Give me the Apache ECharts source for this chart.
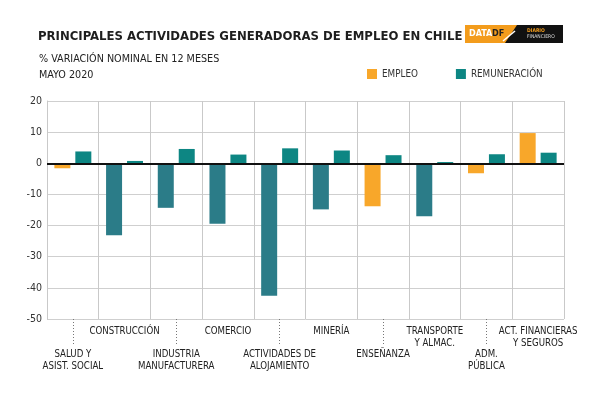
<!DOCTYPE html>
<html>
<head>
<meta charset="utf-8">
<script src="https://cdn.jsdelivr.net/npm/echarts@6/dist/echarts.min.js"></script>
<style>
  html, body { margin: 0; padding: 0; background: #fff; }
  #chart { width: 600px; height: 400px; }
</style>
</head>
<body>
<div id="chart"></div>
<script>
const categorias = [
  "SALUD Y\nASIST. SOCIAL",
  "CONSTRUCCIÓN",
  "INDUSTRIA\nMANUFACTURERA",
  "COMERCIO",
  "ACTIVIDADES DE\nALOJAMIENTO",
  "MINERÍA",
  "ENSEÑANZA",
  "TRANSPORTE\nY ALMAC.",
  "ADM.\nPÚBLICA",
  "ACT. FINANCIERAS\nY SEGUROS",
];
const empleo = [-1.6, -23.1, -14.3, -19.4, -42.5, -14.8, -13.8, -17.0, -3.2, 9.7];
const remuneracion = [3.8, 0.75, 4.6, 2.8, 4.8, 4.1, 2.6, 0.4, 2.9, 3.4];
const ejeY = { min: -50, max: 20, interval: 10 };

// empleo bars drawn in orange for these; the rest use the darker teal
const empleoNaranja = ["SALUD Y\nASIST. SOCIAL", "ENSEÑANZA", "ADM.\nPÚBLICA", "ACT. FINANCIERAS\nY SEGUROS"];

const FONT = "'DejaVu Sans Condensed', 'DejaVu Sans', sans-serif";
const ORANGE = "#f8a72a";
const TEAL = "#0d8683";
const TEAL_DARK = "#2b7c88";

// no narrow font installed: pick sizes so the texts take about the same width as in the picture
const ctx = document.createElement("canvas").getContext("2d");
function fitSize(text, weight, width) {
  ctx.font = weight + " 100px " + FONT;
  return Math.round((100 * width / ctx.measureText(text).width) * 10) / 10;
}
const titleSize = Math.min(18, fitSize("PRINCIPALES ACTIVIDADES GENERADORAS DE EMPLEO EN CHILE", "bold", 424));
const subSize = Math.min(13, fitSize("% VARIACIÓN NOMINAL EN 12 MESES", "normal", 180));
const labelSize = Math.min(11, fitSize("CONSTRUCCIÓN", "normal", 70));
const legendSize = Math.min(12, fitSize("REMUNERACIÓN", "normal", 72));

const chart = echarts.init(document.getElementById("chart"));

const option = {
  animation: false,
  backgroundColor: "#fff",
  textStyle: { fontFamily: FONT },
  title: [
    {
      text: "PRINCIPALES ACTIVIDADES GENERADORAS DE EMPLEO EN CHILE",
      left: 33,
      top: 25,
      textStyle: { fontFamily: FONT, fontSize: titleSize, fontWeight: "bold", color: "#1e1e1e" },
    },
    {
      text: "% VARIACIÓN NOMINAL EN 12 MESES\nMAYO 2020",
      left: 34,
      top: 46,
      textStyle: { fontFamily: FONT, fontSize: subSize, fontWeight: "normal", color: "#222", lineHeight: 16 },
    },
  ],
  legend: {
    left: 362,
    top: 64,
    itemWidth: 10,
    itemHeight: 10,
    itemGap: 38,
    icon: "rect",
    textStyle: { fontFamily: FONT, fontSize: legendSize, color: "#333", padding: [1, 0, 0, 0] },
    data: [
      { name: "EMPLEO", itemStyle: { color: ORANGE } },
      { name: "REMUNERACIÓN", itemStyle: { color: TEAL } },
    ],
  },
  grid: { left: 47, right: 36, top: 101, bottom: 81 },
  xAxis: [
    {
      type: "category",
      data: categorias,
      position: "bottom",
      axisLine: { show: false },
      axisTick: { show: false },
      splitLine: { show: true, interval: 0, lineStyle: { color: "#c9c9c9", width: 1 } },
      axisLabel: {
        interval: (i) => i % 2 === 1,
        margin: 6,
        fontFamily: FONT,
        fontSize: labelSize,
        lineHeight: 12,
        color: "#222",
      },
    },
    {
      type: "category",
      data: categorias,
      position: "bottom",
      axisLine: { show: false },
      axisTick: {
        show: true,
        alignWithLabel: true,
        interval: (i) => i % 2 === 0,
        length: 26,
        lineStyle: { color: "#777", type: [1, 2], width: 1 },
      },
      splitLine: { show: false },
      axisLabel: {
        interval: (i) => i % 2 === 0,
        margin: 29,
        fontFamily: FONT,
        fontSize: labelSize,
        lineHeight: 12,
        color: "#222",
      },
    },
  ],
  yAxis: {
    type: "value",
    min: ejeY.min,
    max: ejeY.max,
    interval: ejeY.interval,
    axisLine: { show: true, lineStyle: { color: "#c9c9c9", width: 1 } },
    axisTick: { show: false },
    splitLine: { lineStyle: { color: "#cfcfcf", width: 1 } },
    axisLabel: { margin: 5, fontFamily: FONT, fontSize: 10.5, color: "#333" },
  },
  series: [
    {
      name: "EMPLEO",
      type: "bar",
      xAxisIndex: 0,
      barWidth: 16,
      barGap: "31%",
      itemStyle: { color: ORANGE },
      data: empleo.map((v, i) => ({
        value: v,
        itemStyle: { color: empleoNaranja.includes(categorias[i]) ? ORANGE : TEAL_DARK },
      })),
      markLine: {
        silent: true,
        symbol: "none",
        label: { show: false },
        lineStyle: { color: "#111", width: 2, type: "solid" },
        data: [{ yAxis: 0 }],
      },
    },
    {
      name: "REMUNERACIÓN",
      type: "bar",
      xAxisIndex: 0,
      barWidth: 16,
      barGap: "31%",
      itemStyle: { color: TEAL },
      data: remuneracion,
    },
  ],
  graphic: [
    {
      type: "group",
      left: 465,
      top: 25,
      children: [
        { type: "polygon", shape: { points: [[0, 0], [58, 0], [46, 18], [0, 18]] }, style: { fill: "#f39c1c" } },
        { type: "polygon", shape: { points: [[52, 0], [98, 0], [98, 18], [40, 18]] }, style: { fill: "#111" } },
        { type: "line", shape: { x1: 38, y1: 16, x2: 50, y2: 6 }, style: { stroke: "#fff", lineWidth: 1.5 } },
        { type: "text", x: 4, y: 4, style: { text: "DATA", fill: "#fff", font: "bold 9px " + FONT } },
        { type: "text", x: 27, y: 4, style: { text: "DF", fill: "#222", font: "bold 9px " + FONT } },
        { type: "text", x: 62, y: 3, style: { text: "DIARIO", fill: "#f39c1c", font: "bold 5px " + FONT } },
        { type: "text", x: 62, y: 9, style: { text: "FINANCIERO", fill: "#ddd", font: "5px " + FONT } },
      ],
    },
  ],
};

chart.setOption(option);
</script>
</body>
</html>
